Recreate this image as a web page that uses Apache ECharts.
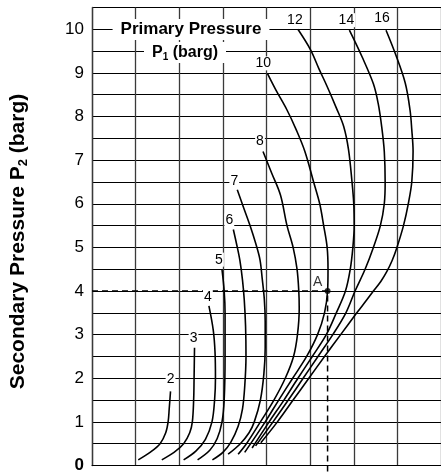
<!DOCTYPE html>
<html>
<head>
<meta charset="utf-8">
<script src="https://cdn.jsdelivr.net/npm/echarts@6/dist/echarts.min.js"></script>
<style>
html,body{margin:0;padding:0;background:#fff;}
#chart{width:441px;height:474px;}
</style>
</head>
<body>
<div id="chart"></div>
<script>
// ---------- DATA ----------
// y-axis: secondary pressure P2 (barg); x-axis: unlabelled flow scale (grid units)
const yTickLabels = [0,1,2,3,4,5,6,7,8,9,10];
const curveNames = ['2','3','4','5','6','7','8','10','12','14','16'];

// each curve: [x, P2] points from bottom to top
const curve_2  = [[1.06,0.13],[1.33,0.30],[1.56,0.50],[1.69,0.75],[1.745,1.0],[1.77,1.3],[1.80,1.7]];
const curve_3  = [[1.60,0.13],[1.88,0.30],[2.10,0.50],[2.24,0.75],[2.30,1.0],[2.33,1.5],[2.34,2.0],[2.35,2.7]];
const curve_4  = [[2.10,0.13],[2.38,0.33],[2.60,0.60],[2.75,1.0],[2.81,1.5],[2.83,2.0],[2.82,2.6],[2.78,3.1],[2.68,3.66]];
const curve_5  = [[2.42,0.13],[2.70,0.35],[2.87,0.62],[2.98,1.0],[3.03,1.5],[3.05,2.5],[3.05,3.5],[3.03,4.0],[2.98,4.49]];
const curve_6  = [[2.76,0.13],[3.00,0.30],[3.18,0.53],[3.35,0.90],[3.45,1.3],[3.50,1.8],[3.53,2.5],[3.52,3.2],[3.49,3.8],[3.45,4.25],[3.39,4.7],[3.32,5.05],[3.24,5.41]];
const curve_7  = [[3.12,0.26],[3.40,0.50],[3.60,0.75],[3.72,1.0],[3.86,1.5],[3.94,2.1],[3.97,2.7],[3.97,3.3],[3.95,3.81],[3.90,4.3],[3.85,4.72],[3.75,5.1],[3.63,5.48],[3.48,5.9],[3.33,6.32]];
const curve_8  = [[3.35,0.26],[3.54,0.50],[3.86,1.0],[4.17,1.5],[4.43,2.0],[4.62,2.5],[4.71,3.0],[4.75,3.6],[4.74,4.0],[4.70,4.5],[4.61,5.0],[4.47,5.5],[4.32,6.2],[4.12,6.7],[3.92,7.2]];
const curve_10 = [[3.50,0.30],[3.97,1.0],[4.28,1.5],[4.60,2.0],[4.92,2.5],[5.17,3.0],[5.33,3.5],[5.40,4.0],[5.41,4.5],[5.39,5.0],[5.31,5.5],[5.22,6.0],[5.08,6.5],[4.88,7.2],[4.68,7.7],[4.47,8.15],[4.22,8.6],[4.02,8.99]];
const curve_12 = [[3.67,0.40],[4.06,1.0],[4.40,1.5],[4.72,2.0],[5.05,2.5],[5.37,3.0],[5.60,3.5],[5.81,4.0],[5.92,4.5],[5.98,5.0],[6.01,5.5],[6.00,6.0],[5.96,6.5],[5.88,7.24],[5.77,7.77],[5.60,8.2],[5.39,8.69],[5.20,9.1],[5.01,9.53],[4.72,10.0]];
const curve_14 = [[3.75,0.45],[4.15,1.0],[4.50,1.5],[4.84,2.0],[5.18,2.5],[5.52,3.0],[5.82,3.5],[6.03,4.0],[6.26,4.5],[6.45,5.0],[6.61,5.5],[6.70,6.0],[6.72,6.5],[6.70,7.2],[6.64,7.77],[6.56,8.3],[6.45,8.75],[6.19,9.37],[5.90,9.98]];
const curve_16 = [[3.87,0.52],[4.25,1.0],[4.61,1.5],[4.97,2.0],[5.33,2.5],[5.70,3.0],[6.07,3.5],[6.30,3.8],[6.45,4.0],[6.62,4.22],[6.76,4.45],[6.88,4.7],[6.99,5.0],[7.14,5.5],[7.25,6.0],[7.33,6.5],[7.36,7.2],[7.33,7.7],[7.29,8.15],[7.18,8.77],[6.95,9.45],[6.74,9.98]];

const curves = [curve_2,curve_3,curve_4,curve_5,curve_6,curve_7,curve_8,curve_10,curve_12,curve_14,curve_16];

// worked example point A (P2 = 4 barg on the 10 barg curve)
const pointA = [5.40, 4];
const pointALabel = 'A';

const titleLine1 = 'Primary Pressure';
const titleLine2 = 'P{sub|1} (barg)';
const yAxisTitle = 'Secondary Pressure P{sub|2} (barg)';

// ---------- STYLE ----------
const FONT = '"Liberation Sans", Arial, Helvetica, sans-serif';
const labelOffsets = [[0,-12],[-1,-10],[-1,-9],[-3,-10],[-4,-9],[-3,-9],[-3,-10],[-4,-10],[-3,-9],[-3,-10],[-4,-12]];

const series = curves.map((pts, i) => ({
  type: 'line',
  name: curveNames[i],
  data: pts,
  smooth: 0.35,
  showSymbol: false,
  symbol: 'none',
  lineStyle: { color: '#000', width: 1.6 },
  z: 3,
  markPoint: {
    symbol: 'circle',
    symbolSize: 0,
    silent: true,
    data: [{ coord: pts[pts.length - 1], value: curveNames[i] }],
    label: {
      show: true,
      position: 'inside',
      formatter: curveNames[i],
      offset: labelOffsets[i],
      color: '#000',
      fontSize: 14,
      fontFamily: FONT,
      backgroundColor: '#fff',
      padding: [0, 1]
    },
    z: 5
  }
}));

// dashed construction lines to point A
series.push({
  type: 'line',
  data: [[0, pointA[1]], pointA, [pointA[0], -0.4]],
  showSymbol: false,
  symbol: 'none',
  clip: false,
  lineStyle: { color: '#000', width: 1.5, type: [6, 4] },
  z: 2
});
series.push({
  type: 'scatter',
  data: [pointA],
  symbol: 'circle',
  symbolSize: 6,
  itemStyle: { color: '#000' },
  label: {
    show: true,
    formatter: pointALabel,
    position: 'inside',
    offset: [-10, -9],
    color: '#000',
    fontSize: 14,
    fontFamily: FONT
  },
  z: 6
});

const chart = echarts.init(document.getElementById('chart'), null, { renderer: 'canvas' });
chart.setOption({
  animation: false,
  backgroundColor: '#fff',
  title: [
    {
      text: titleLine1,
      left: 183,
      top: 19,
      textAlign: 'center',
      backgroundColor: '#fff',
      padding: [1, 8],
      textStyle: { fontFamily: FONT, fontSize: 17, fontWeight: 'bold', color: '#000', lineHeight: 19 }
    },
    {
      text: titleLine2,
      left: 177,
      top: 42,
      textAlign: 'center',
      backgroundColor: '#fff',
      padding: [1, 8],
      textStyle: {
        fontFamily: FONT, fontSize: 16, fontWeight: 'bold', color: '#000', lineHeight: 19,
        rich: { sub: { fontFamily: FONT, fontSize: 10, fontWeight: 'bold', verticalAlign: 'bottom', lineHeight: 19 } }
      }
    }
  ],
  grid: { left: 91, top: 7.5, width: 350, height: 459, containLabel: false },
  xAxis: {
    type: 'value',
    min: 0, max: 8, interval: 1,
    axisLabel: { show: false },
    axisTick: { show: false },
    axisLine: { show: true, lineStyle: { color: '#000', width: 1 } },
    splitLine: { show: true, lineStyle: { color: '#3a3a3a', width: 1.3 } }
  },
  yAxis: {
    type: 'value',
    min: 0, max: 10.5, interval: 0.5,
    name: yAxisTitle,
    nameLocation: 'middle',
    nameRotate: 90,
    nameGap: 62,
    nameTextStyle: {
      fontFamily: FONT, fontSize: 21, fontWeight: 'bold', color: '#000',
      padding: [0, 10, 0, 0],
      rich: { sub: { fontFamily: FONT, fontSize: 13, fontWeight: 'bold', verticalAlign: 'bottom', lineHeight: 23 } }
    },
    axisTick: { show: false },
    axisLine: { show: true, lineStyle: { color: '#3a3a3a', width: 1.3 } },
    axisLabel: {
      margin: 8,
      fontFamily: FONT,
      fontSize: 17,
      color: '#000',
      formatter: function (v) {
        if (yTickLabels.indexOf(v) < 0) return '';
        return v === 0 ? '{b|0}' : String(v);
      },
      rich: { b: { fontFamily: FONT, fontSize: 17, fontWeight: 'bold', color: '#000' } }
    },
    splitLine: { show: true, lineStyle: { color: '#000', width: 1 } }
  },
  series: series
});
</script>
</body>
</html>
